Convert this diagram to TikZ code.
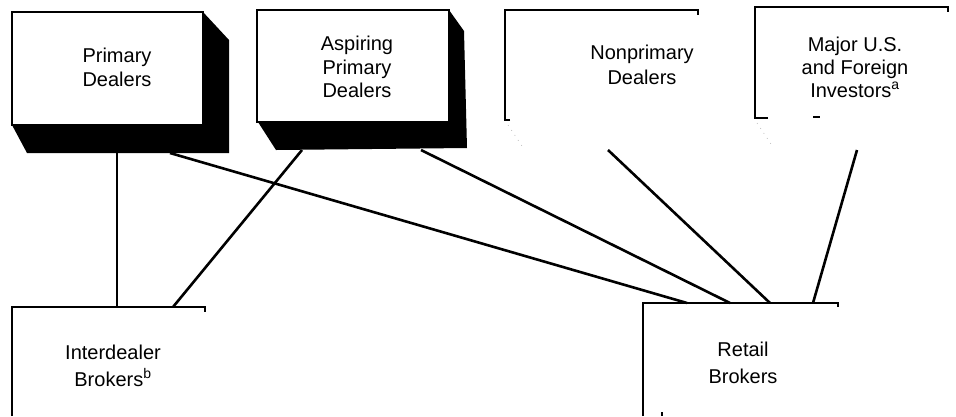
\documentclass[tikz,border=0pt]{standalone}
\usepackage{fontspec}
\setmainfont{Liberation Sans}
\begin{document}
\begin{tikzpicture}[x=1pt,y=-1pt,
  lbl/.style={font=\fontsize{20}{24.5}\selectfont, align=center, inner sep=0pt},
  edge/.style={line width=2.6pt},
  frame/.style={line width=2.1pt},
  frontface/.style={draw, line width=2.1pt, fill=white, inner sep=0pt, minimum width=#1},
  faint/.style={gray!55, line width=0.6pt, dash pattern=on 1pt off 5pt}]
\useasboundingbox (0,0) rectangle (956,416);

% ---------- connector end points ----------
\coordinate (pdA) at (117,153);
\coordinate (pdB) at (170,153);
\coordinate (apA) at (302,150);
\coordinate (apB) at (421,150);
\coordinate (npA) at (608,150);
\coordinate (mjA) at (857,150);
\coordinate (idA) at (117,307);
\coordinate (idB) at (173,307);
\coordinate (rbA) at (687,303);
\coordinate (rbB) at (730,303);
\coordinate (rbC) at (770,303);
\coordinate (rbD) at (813,303);

% ---------- connectors ----------
\draw[edge] (pdA) -- (idA);
\draw[edge] (pdB) -- (rbA);
\draw[edge] (apA) -- (idB);
\draw[edge] (apB) -- (rbB);
\draw[edge] (npA) -- (rbC);
\draw[edge] (mjA) -- (rbD);

% ---------- Primary Dealers (3-D box) ----------
\fill (203,12) -- (229,40) -- (229,153) -- (27,153) -- (12,125) -- cycle;
\node[frontface=191pt, minimum height=113pt] (pdbox) at (107.5,68.5) {};
\node[lbl] (pd) at (117,67.5) {Primary\\Dealers};

% ---------- Aspiring Primary Dealers (3-D box) ----------
\fill (449,10) -- (464,31) -- (467,148) -- (276,150) -- (258,122) -- cycle;
\node[frontface=192pt, minimum height=112pt] (apbox) at (353,66) {};
\node[lbl, font=\fontsize{20}{23.5}\selectfont] (ap) at (357,67) {Aspiring\\Primary\\Dealers};

% ---------- Nonprimary Dealers (open box) ----------
\draw[frame] (510,120) -- (505,120) -- (505,10) -- (698,10) -- (698,15);
\draw[faint] (508,125) -- (522,146);
\node[lbl] (np) at (642,65) {Nonprimary\\Dealers};

% ---------- Major U.S. and Foreign Investors (open box) ----------
\draw[frame] (768,118) -- (755,118) -- (755,7) -- (948,7) -- (948,12);
\draw[frame] (813,117) -- (820,117);
\draw[faint] (757,123) -- (773,147);
\node[lbl, font=\fontsize{20}{23}\selectfont] (mj) at (855,67) {Major U.S.\\and Foreign\\Investors\textsuperscript{a}};

% ---------- Interdealer Brokers ----------
\draw[frame] (12,416) -- (12,307) -- (205,307) -- (205,312);
\node[lbl, font=\fontsize{20}{27}\selectfont] (id) at (113,365.5) {Interdealer\\Brokers\textsuperscript{b}};

% ---------- Retail Brokers ----------
\draw[frame] (643,416) -- (643,303) -- (838,303) -- (838,307);
\draw[frame] (662,412) -- (662,416);
\node[lbl, font=\fontsize{20}{27}\selectfont] (rb) at (743,362.5) {Retail\\Brokers};
\end{tikzpicture}
\end{document}
